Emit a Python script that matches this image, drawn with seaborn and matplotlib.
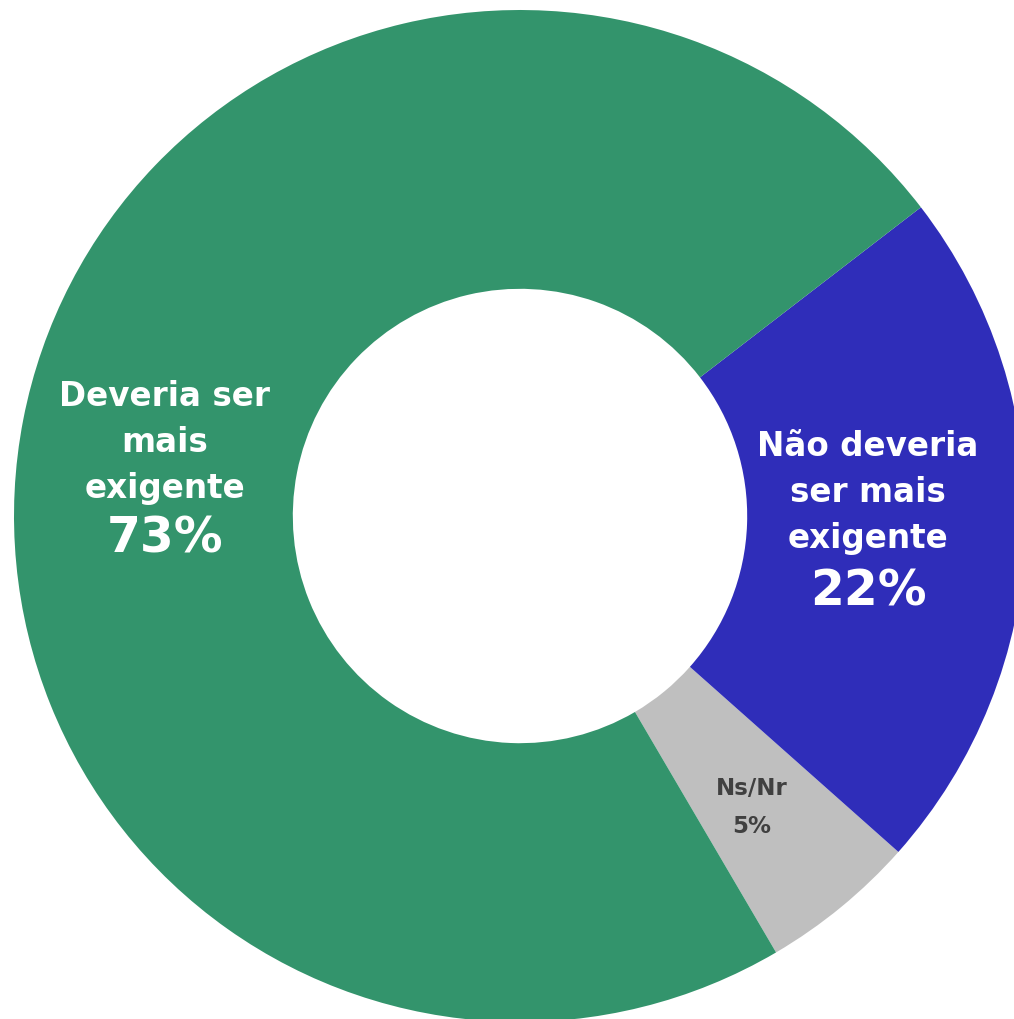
import matplotlib
matplotlib.use("Agg")
import matplotlib.pyplot as plt
import seaborn as sns

sns.set_theme(style="white")
plt.rcParams['font.family'] = ['DejaVu Sans']

categories = ["Ns/Nr", "Não deveria\nser mais\nexigente", "Deveria ser\nmais\nexigente"]
values = [5, 22, 73]
colors = ["#BFBFBF", "#2F2DB9", "#33946C"]

W, H = 1014, 1020
fig = plt.figure(figsize=(W / 100, H / 100), dpi=100)
fig.patch.set_facecolor("white")
R = 506
cx, cy = 520, 517
ax = fig.add_axes([(cx - R) / W, (H - cy - R) / H, 2 * R / W, 2 * R / H])

ax.pie(values, colors=colors, startangle=-59.6, counterclock=True, radius=1.0,
       wedgeprops=dict(width=0.551, edgecolor="none", linewidth=0))
ax.set_xlim(-1, 1)
ax.set_ylim(-1, 1)
ax.set_aspect("equal")
ax.axis("off")

# labels
# green
ax.text(-0.702, 0.0375, categories[2], ha="center", va="baseline", color="white",
        fontsize=23.5, fontweight="bold", linespacing=1.5)
ax.text(-0.702, -0.071, f"{values[2]}%", ha="center", va="baseline", color="white",
        fontsize=35, fontweight="bold")
# blue
ax.text(0.688, -0.061, categories[1], ha="center", va="baseline", color="white",
        fontsize=23.5, fontweight="bold", linespacing=1.5)
ax.text(0.688, -0.174, f"{values[1]}%", ha="center", va="baseline", color="white",
        fontsize=35, fontweight="bold")
# gray
ax.text(0.458, -0.549, categories[0], ha="center", va="baseline",
        color="#404040", fontsize=16.5, fontweight="bold")
ax.text(0.458, -0.625, f"{values[0]}%", ha="center", va="baseline",
        color="#404040", fontsize=16.5, fontweight="bold")

fig.savefig("out.png", dpi=100, facecolor="white")
